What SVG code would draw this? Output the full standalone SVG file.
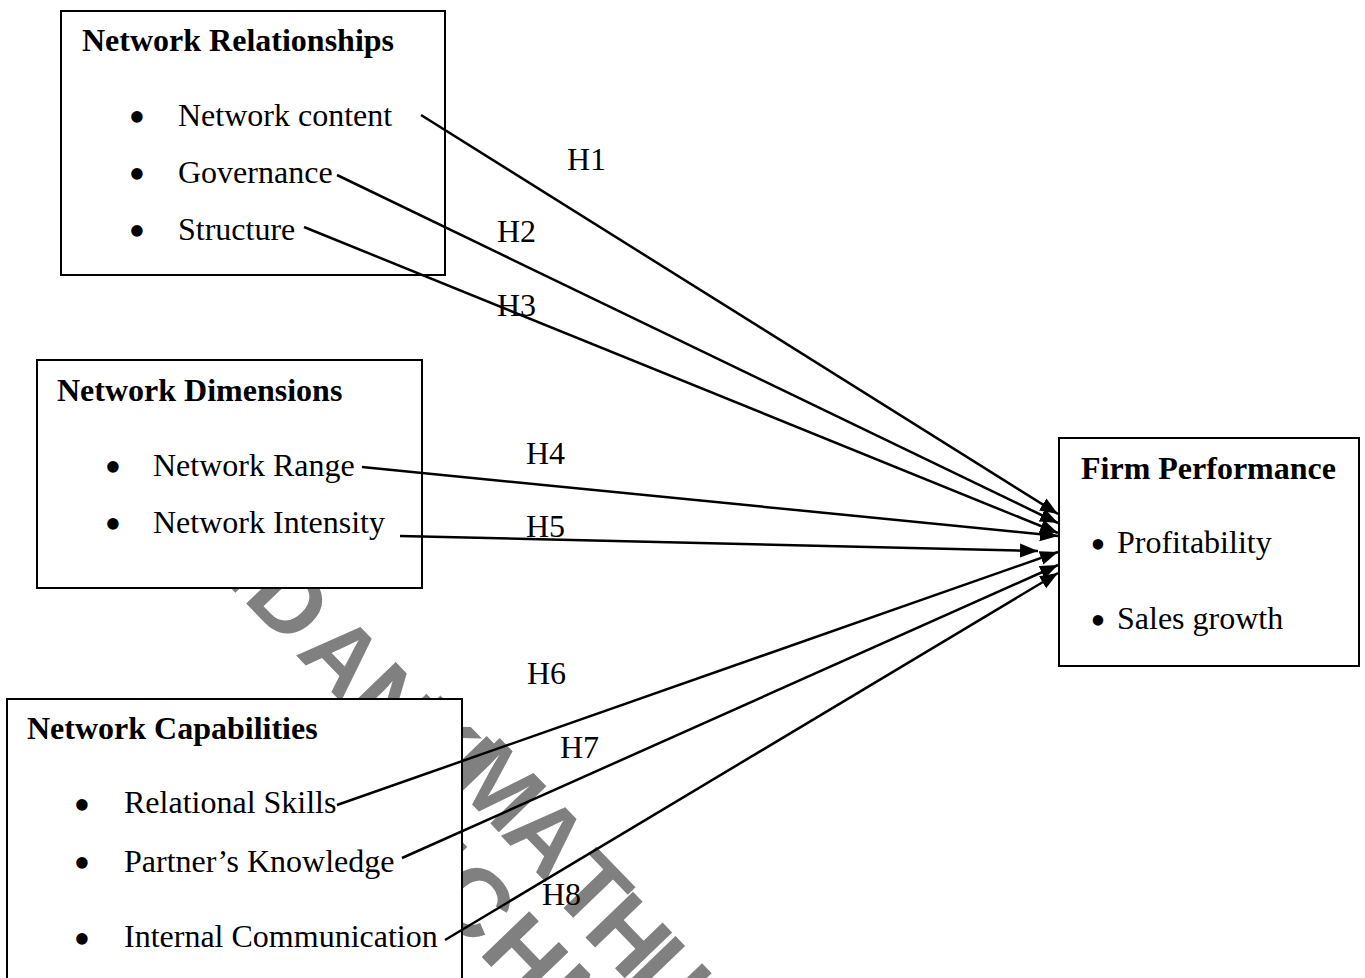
<svg xmlns="http://www.w3.org/2000/svg" width="1365" height="978" viewBox="0 0 1365 978">
  <style>
    .box { fill: #ffffff; stroke: #000000; stroke-width: 2; }
    .title { font-family: "Liberation Serif", "Times New Roman", serif; font-size: 32px; font-weight: bold; fill: #000000; }
    .item { font-family: "Liberation Serif", "Times New Roman", serif; font-size: 32px; fill: #000000; }
    .dot { font-family: "Liberation Serif", "Times New Roman", serif; font-size: 48px; fill: #000000; text-anchor: middle; }
    .dot-small { font-family: "Liberation Serif", "Times New Roman", serif; font-size: 44px; fill: #000000; text-anchor: middle; }
    .hyp { font-family: "Liberation Serif", "Times New Roman", serif; font-size: 32px; fill: #000000; }
    .link { fill: none; stroke: #000000; stroke-width: 2.5; marker-end: url(#arrow); }
    .wm { font-family: "Liberation Sans", Arial, sans-serif; font-size: 96px; font-weight: bold; fill: #808080; text-anchor: middle; }
  </style>
  <defs>
    <marker id="arrow" markerUnits="userSpaceOnUse" markerWidth="19" markerHeight="16" refX="18" refY="8" orient="auto">
      <path d="M0,1 L18,8 L0,15 z" fill="#000000"/>
    </marker>
  </defs>

  <rect width="1365" height="978" fill="#ffffff"/>

  <!-- background watermark, partly covered by the boxes -->
  <g id="watermark" transform="translate(343,655) rotate(46)">
    <text class="wm" x="-220 -148 -76 0 70 98 125 165 202 272 342 400 440 470 500" y="34 34 34 34 33 28 24 19 11 12 17 22 22 22 22">DEDAN KIMATHI U</text>
    <text class="wm" x="128 198 268 342 414" y="110 110 110 110 110">TECHN</text>
  </g>

  <g id="network-relationships">
    <rect class="box" x="61" y="11" width="384" height="264"/>
    <text class="title" x="82" y="51">Network Relationships</text>
    <text class="dot" x="137" y="133">•</text>
    <text class="item" x="178" y="126">Network content</text>
    <text class="dot" x="137" y="190">•</text>
    <text class="item" x="178" y="183">Governance</text>
    <text class="dot" x="137" y="247">•</text>
    <text class="item" x="178" y="240">Structure</text>
  </g>

  <g id="network-dimensions">
    <rect class="box" x="37" y="360" width="385" height="228"/>
    <text class="title" x="57" y="401">Network Dimensions</text>
    <text class="dot" x="113" y="483">•</text>
    <text class="item" x="153" y="476">Network Range</text>
    <text class="dot" x="113" y="540">•</text>
    <text class="item" x="153" y="533">Network Intensity</text>
  </g>

  <g id="network-capabilities">
    <rect class="box" x="7" y="699" width="455" height="300"/>
    <text class="title" x="27" y="739">Network Capabilities</text>
    <text class="dot" x="82" y="821">•</text>
    <text class="item" x="124" y="813">Relational Skills</text>
    <text class="dot" x="82" y="879">•</text>
    <text class="item" x="124" y="872">Partner’s Knowledge</text>
    <text class="dot" x="82" y="955">•</text>
    <text class="item" x="124" y="947">Internal Communication</text>
  </g>

  <g id="firm-performance">
    <rect class="box" x="1059" y="438" width="300" height="228"/>
    <text class="title" x="1081" y="479">Firm Performance</text>
    <text class="dot-small" x="1098" y="559">•</text>
    <text class="item" x="1117" y="553">Profitability</text>
    <text class="dot-small" x="1098" y="635">•</text>
    <text class="item" x="1117" y="629">Sales growth</text>
  </g>

  <g id="connectors">
    <line class="link" x1="421" y1="115" x2="1058" y2="514"/>
    <line class="link" x1="337" y1="175" x2="1058" y2="523"/>
    <line class="link" x1="304" y1="227" x2="1058" y2="533"/>
    <line class="link" x1="362" y1="467" x2="1058" y2="536"/>
    <line class="link" x1="400" y1="536" x2="1038" y2="551"/>
    <line class="link" x1="337" y1="805" x2="1058" y2="552"/>
    <line class="link" x1="402" y1="858" x2="1058" y2="565"/>
    <line class="link" x1="445" y1="940" x2="1058" y2="573"/>
  </g>

  <g id="hypothesis-labels">
    <text class="hyp" x="567" y="170">H1</text>
    <text class="hyp" x="497" y="242">H2</text>
    <text class="hyp" x="497" y="316">H3</text>
    <text class="hyp" x="526" y="464">H4</text>
    <text class="hyp" x="526" y="537">H5</text>
    <text class="hyp" x="527" y="684">H6</text>
    <text class="hyp" x="560" y="758">H7</text>
    <text class="hyp" x="542" y="905">H8</text>
  </g>
</svg>
